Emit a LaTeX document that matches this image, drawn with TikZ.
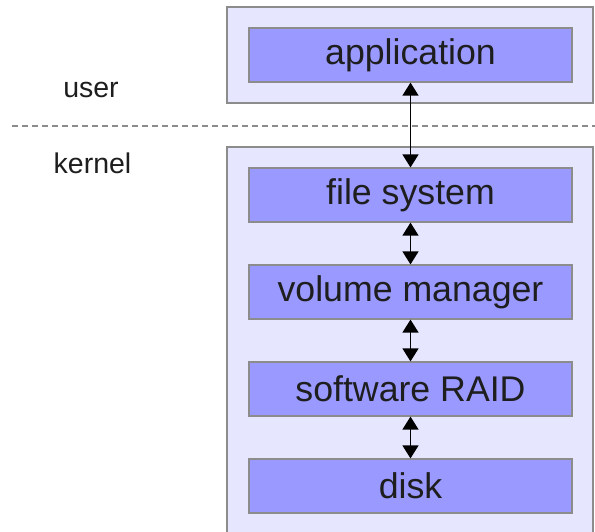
\documentclass[tikz,border=0pt]{standalone}
\usepackage{fontspec}
\setmainfont{Liberation Sans}
\usetikzlibrary{arrows.meta}
\definecolor{outerfill}{HTML}{E6E6FF}
\definecolor{innerfill}{HTML}{9999FF}
\definecolor{edgegray}{HTML}{8C8C8C}
\definecolor{txt}{HTML}{1E1E1E}
\tikzset{
  outerbox/.style={draw=edgegray, fill=outerfill, line width=1.2pt},
  layerbox/.style={draw=edgegray, fill=innerfill, line width=1.2pt, inner sep=0pt,
    minimum width=323pt, minimum height=54pt, text=txt, font=\fontsize{35.7}{40}\selectfont},
  sidelabel/.style={text=txt, font=\fontsize{28.5}{32}\selectfont, inner sep=0pt},
  biarrow/.style={{Triangle[width=16pt,length=13pt]}-{Triangle[width=16pt,length=13pt]}, line width=1.3pt, black},
}
\begin{document}
\begin{tikzpicture}[x=1pt,y=-1pt]
\useasboundingbox (0,0) rectangle (595,531);
\clip (0,0) rectangle (595,531);
\fill[white] (0,0) rectangle (595,531);
% outer boxes
\draw[outerbox] (227,7) rectangle (593,103);
\draw[outerbox] (227,147) rectangle (593,560);
% dashed separator
\draw[edgegray, line width=1.1pt, dash pattern=on 6pt off 4pt] (12,126) -- (595,126);
% side labels
\node[sidelabel] (user) at (91,90) {user};
\node[sidelabel] (kernel) at (92.5,163) {kernel};
% layers
\node[layerbox] (app) at (410.5,55) {application};
\node[layerbox] (fs) at (410.5,195) {file system};
\node[layerbox] (vm) at (410.5,292) {volume manager};
\node[layerbox] (raid) at (410.5,389) {software RAID};
\node[layerbox] (disk) at (410.5,486) {disk};
% connectors
\draw[biarrow] (app.south) -- (fs.north);
\draw[biarrow] (fs.south) -- (vm.north);
\draw[biarrow] (vm.south) -- (raid.north);
\draw[biarrow] (raid.south) -- (disk.north);
\end{tikzpicture}
\end{document}
